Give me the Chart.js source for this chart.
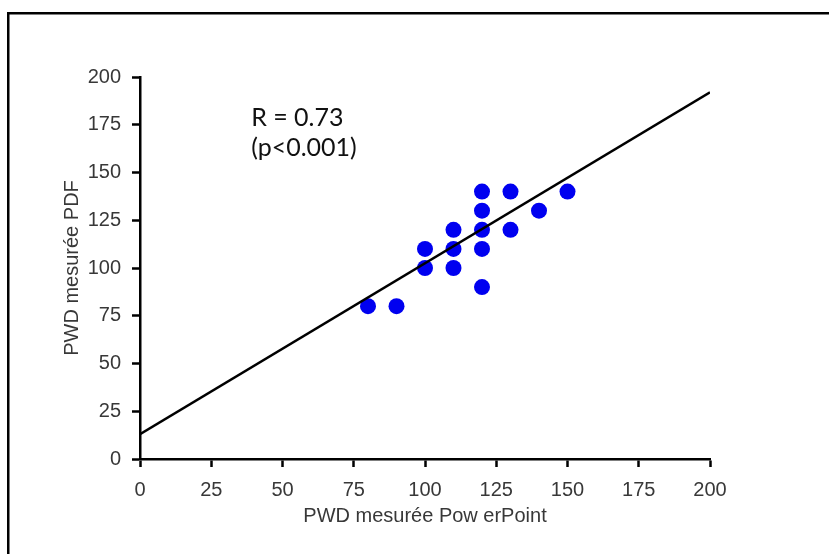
<!DOCTYPE html>
<html>
<head>
<meta charset="utf-8">
<script src="https://cdn.jsdelivr.net/npm/chart.js@4"></script>
<style>
  body { margin: 0; background: #fff; }
</style>
</head>
<body>
<canvas id="chart" width="829" height="554"></canvas>
<script>
// measured values (PowerPoint vs PDF)
const xValues = [120, 130, 150, 120, 140, 110, 120, 130, 100, 110, 120, 100, 110, 120, 80, 90];
const yValues = [140, 140, 140, 130, 130, 120, 120, 120, 110, 110, 110, 100, 100, 90, 80, 80];

// regression line end points
const fitX = [0, 200];
const fitY = [13, 192];

const tickValues = [0, 25, 50, 75, 100, 125, 150, 175, 200];
const annotationLines = ["R = 0.73", "(p<0.001)"];

const tickFont = { family: "'Liberation Sans', Arial, sans-serif", size: 20 };
const titleFont = { family: "'Liberation Sans', Arial, sans-serif", size: 20 };

// black frame around the picture (only top and left edges are visible)
const framePlugin = {
  id: "frame",
  beforeDraw(chart) {
    const ctx = chart.ctx;
    ctx.save();
    ctx.fillStyle = "#fff";
    ctx.fillRect(0, 0, chart.width, chart.height);
    ctx.fillStyle = "#000";
    ctx.fillRect(7, 12, chart.width, 2.5);
    ctx.fillRect(7, 12, 2.5, chart.height);
    ctx.restore();
  },
};

// "R = 0.73 (p<0.001)" text
const annotationPlugin = {
  id: "rText",
  afterDraw(chart) {
    const { ctx, scales } = chart;
    ctx.save();
    ctx.fillStyle = "#111";
    ctx.font = "25px Lato, 'Open Sans', sans-serif";
    ctx.textBaseline = "middle";
    ctx.textAlign = "left";
    const x = scales.x.getPixelForValue(39);
    ctx.fillText(annotationLines[0], x, scales.y.getPixelForValue(178.5));
    ctx.fillText(annotationLines[1], x, scales.y.getPixelForValue(163));
    ctx.restore();
  },
};

const axisCommon = {
  type: "linear",
  min: 0,
  max: 200,
  afterBuildTicks: (scale) => {
    scale.ticks = tickValues.map((v) => ({ value: v }));
  },
  grid: {
    drawOnChartArea: false,
    drawTicks: true,
    tickLength: 8,
    tickColor: "#000",
    tickWidth: 2.5,
  },
  border: { color: "#000", width: 2.5 },
  ticks: { font: tickFont, color: "#383838", padding: 11 },
};

new Chart(document.getElementById("chart"), {
  type: "scatter",
  data: {
    datasets: [
      {
        label: "fit",
        data: fitX.map((x, i) => ({ x, y: fitY[i] })),
        showLine: true,
        borderColor: "#000",
        borderWidth: 2.5,
        pointRadius: 0,
        order: 0,
      },
      {
        label: "PWD",
        data: xValues.map((x, i) => ({ x, y: yValues[i] })),
        pointRadius: 8,
        pointBackgroundColor: "#0000f0",
        pointBorderColor: "#0000f0",
        pointBorderWidth: 0,
        order: 1,
      },
    ],
  },
  options: {
    responsive: false,
    animation: false,
    layout: { padding: { left: 56, top: 77, right: 119, bottom: 22 } },
    plugins: { legend: { display: false }, tooltip: { enabled: false } },
    scales: {
      x: {
        ...axisCommon,
        afterFit: (scale) => { scale.height = 73; },
        title: {
          display: true,
          text: "PWD mesurée Pow erPoint",
          font: titleFont,
          color: "#383838",
          padding: { top: 0, bottom: 4 },
        },
      },
      y: {
        ...axisCommon,
        afterFit: (scale) => { scale.width = 84; },
        title: {
          display: true,
          text: "PWD mesurée PDF",
          font: titleFont,
          color: "#383838",
          padding: { top: 4, bottom: 0 },
        },
      },
    },
  },
  plugins: [framePlugin, annotationPlugin],
});
</script>
</body>
</html>
